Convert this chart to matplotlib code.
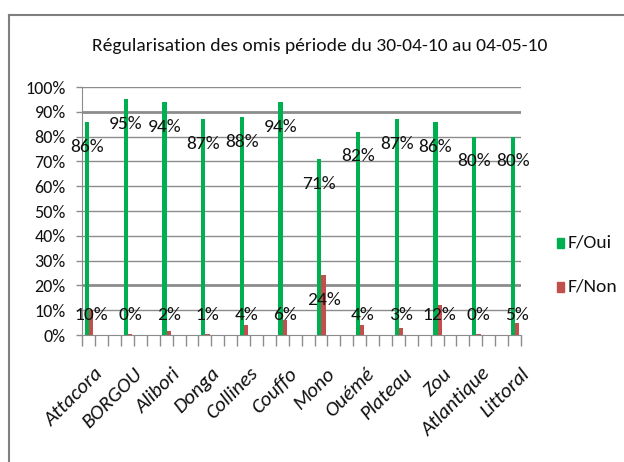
import matplotlib
matplotlib.use("Agg")
import matplotlib.pyplot as plt
from matplotlib.lines import Line2D
from matplotlib import font_manager
import numpy as np

installed = {f.name for f in font_manager.fontManager.ttflist}
main_font = next((f for f in ["Carlito", "Lato", "Liberation Sans Narrow", "Liberation Sans"]
                  if f in installed), "DejaVu Sans")
plt.rcParams['font.family'] = [main_font, 'DejaVu Sans']

title = "Régularisation des omis période du 30-04-10 au 04-05-10"
departements = ["Attacora", "BORGOU", "Alibori", "Donga", "Collines", "Couffo",
                "Mono", "Ouémé", "Plateau", "Zou", "Atlantique", "Littoral"]
f_oui = [86, 95, 94, 87, 88, 94, 71, 82, 87, 86, 80, 80]
f_non = [10, 0.4, 1.6, 0.6, 4, 6, 24, 4, 3, 12, 0.4, 5]
series_names = ["F/Oui", "F/Non"]
y_ticks = [0, 10, 20, 30, 40, 50, 60, 70, 80, 90, 100]

green = "#00B050"
red = "#C0504D"
grid_col = "#8C8C8C"
txt_col = "#111111"

fig = plt.figure(figsize=(6.24, 4.62), dpi=100)
ax = fig.add_axes([82.3 / 624, 1 - 335 / 462, (521 - 82.3) / 624, (335 - 87) / 462])

# each département occupies three slots on the category axis
slot = 3
n = len(departements)
base = np.arange(n) * slot
bw = 0.33
x_oui = base + 0.37
x_non = base + 0.70

ax.bar(x_oui, f_oui, width=bw, color=green, zorder=3, label=series_names[0])
ax.bar(x_non, f_non, width=bw, color=red, zorder=3, label=series_names[1])

lab_fs = 14
for x, v in zip(x_oui, f_oui):
    ax.text(x, v - 10, f"{v:.0f}%", ha="center", va="center", fontsize=lab_fs,
            color=txt_col, zorder=4)
for x, v in zip(x_non, f_non):
    ax.text(x, max(v - 10, 8), f"{v:.0f}%", ha="center", va="center",
            fontsize=lab_fs, color=txt_col, zorder=4)

ax.set_xlim(0, 34)
ax.set_ylim(0, 100)

# horizontal gridlines
for t in y_ticks[1:]:
    lw = 2.0 if t in (20, 90) else 1.0
    ax.axhline(t, color=grid_col, lw=lw, zorder=1)

ax.set_yticks(y_ticks)
ax.set_yticklabels([f"{t}%" for t in y_ticks], fontsize=13, color=txt_col)
ax.tick_params(axis="y", length=4, width=1, color=grid_col, pad=8)

ax.set_xticks(np.arange(0, 35))
ax.set_xticklabels([])
ax.tick_params(axis="x", length=8, width=1, color=grid_col)

for s in ["top", "right"]:
    ax.spines[s].set_visible(False)
ax.spines["left"].set_color(grid_col)
ax.spines["bottom"].set_color(grid_col)

# rotated département names under each group
for x, name in zip(base + 0.95, departements):
    ax.text(x, -12, name, rotation=45, rotation_mode="anchor", ha="right",
            va="top", fontsize=15, style="italic", color=txt_col,
            transform=ax.transData, clip_on=False)

fig.text(320 / 624, 1 - 46 / 462, title, ha="center", va="center",
         fontsize=14, color=txt_col)

# legend drawn as squares and labels at the right
leg_y = [243, 287]
for yy, col, name in zip(leg_y, [green, red], series_names):
    fig.patches.append(plt.Rectangle((557 / 624, 1 - (yy + 5) / 462), 7 / 624, 10 / 462,
                                     transform=fig.transFigure, color=col))
    fig.text(568 / 624, 1 - yy / 462, name, ha="left", va="center",
             fontsize=lab_fs, color=txt_col)

# chart frame
fig.add_artist(Line2D([9 / 624, 9 / 624], [0, 1 - 15 / 462], color="#7F7F7F", lw=1.5))
fig.add_artist(Line2D([9 / 624, 1], [1 - 15 / 462, 1 - 15 / 462], color="#7F7F7F", lw=1.5))

fig.savefig("out.png", dpi=100)
